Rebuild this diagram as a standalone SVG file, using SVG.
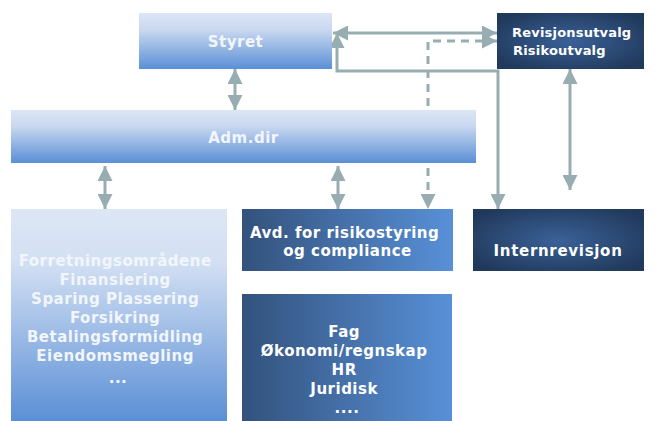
<svg xmlns="http://www.w3.org/2000/svg" width="657" height="421" viewBox="0 0 657 421">
<defs>
<linearGradient id="gV" x1="0" y1="0" x2="0" y2="1">
<stop offset="0" stop-color="#dce6f5"/><stop offset="0.3" stop-color="#c9d8f0"/><stop offset="1" stop-color="#5a8fd6"/>
</linearGradient>
<linearGradient id="gV2" x1="0" y1="0" x2="0" y2="1">
<stop offset="0" stop-color="#dce6f5"/><stop offset="0.25" stop-color="#d3e0f3"/><stop offset="1" stop-color="#5b8fd6"/>
</linearGradient>
<linearGradient id="gH" x1="0" y1="0" x2="1" y2="0">
<stop offset="0" stop-color="#33527c"/><stop offset="1" stop-color="#5890d8"/>
</linearGradient>
<radialGradient id="gR" cx="0.5" cy="0.5" r="0.6">
<stop offset="0" stop-color="#3a6198"/><stop offset="1" stop-color="#213a5c"/>
</radialGradient>
<marker id="ah" viewBox="0 0 16 15" refX="15" refY="7.5" markerWidth="16" markerHeight="15" markerUnits="userSpaceOnUse" orient="auto-start-reverse">
<path d="M0,0 L15,7.5 L0,15 Z" fill="#97adb2"/>
</marker>
</defs>
<style>
.t{font-family:"DejaVu Sans","Verdana",sans-serif;font-weight:bold;fill:#ffffff;text-anchor:middle;letter-spacing:0.5px}
.tl{fill:#f2f6fc}
.c{fill:none;stroke:#97adb2;stroke-width:3}
.d{stroke-dasharray:8,6}
</style>
<g id="connectors">
<line class="c" x1="333" y1="33" x2="497" y2="33" marker-start="url(#ah)" marker-end="url(#ah)"/>
<polyline class="c d" points="497,41 428,41 428,209" marker-start="url(#ah)" marker-end="url(#ah)"/>
<polyline class="c" points="337,33 337,71 498,71 498,209" marker-start="url(#ah)" marker-end="url(#ah)"/>
<line class="c" x1="235" y1="69" x2="235" y2="110" marker-start="url(#ah)" marker-end="url(#ah)"/>
<line class="c" x1="105" y1="166" x2="105" y2="209" marker-start="url(#ah)" marker-end="url(#ah)"/>
<line class="c" x1="338" y1="166" x2="338" y2="209" marker-start="url(#ah)" marker-end="url(#ah)"/>
<line class="c" x1="570" y1="69" x2="570" y2="190" marker-start="url(#ah)" marker-end="url(#ah)"/>
</g>
<g id="styret">
<rect x="139" y="13" width="193" height="56" fill="url(#gV)"/>
<text class="t tl" x="235.5" y="47" font-size="15">Styret</text>
</g>
<g id="revisjonsutvalg">
<rect x="497" y="13" width="147" height="56" fill="url(#gR)"/>
<text class="t" x="512" y="37" font-size="13" style="text-anchor:start;letter-spacing:0.2px">Revisjonsutvalg</text>
<text class="t" x="513" y="55" font-size="13" style="text-anchor:start;letter-spacing:0.2px">Risikoutvalg</text>
</g>
<g id="admdir">
<rect x="11" y="110" width="465" height="53" fill="url(#gV)"/>
<text class="t tl" x="243.5" y="143" font-size="15">Adm.dir</text>
</g>
<g id="forretning">
<rect x="11" y="209" width="216" height="212" fill="url(#gV2)"/>
<text class="t tl" font-size="15">
<tspan x="118" y="266">Forretningsområdene</tspan>
<tspan x="118" y="285">Finansiering</tspan>
<tspan x="118" y="304">Sparing Plassering</tspan>
<tspan x="118" y="323">Forsikring</tspan>
<tspan x="118" y="342">Betalingsformidling</tspan>
<tspan x="118" y="361">Eiendomsmegling</tspan>
<tspan x="118" y="383">...</tspan>
</text>
</g>
<g id="avd">
<rect x="242" y="209" width="211" height="62" fill="url(#gH)"/>
<text class="t" font-size="15">
<tspan x="347.5" y="238">Avd. for risikostyring</tspan>
<tspan x="347.5" y="256">og compliance</tspan>
</text>
</g>
<g id="internrevisjon">
<rect x="473" y="209" width="171" height="62" fill="url(#gR)"/>
<text class="t" x="558" y="256" font-size="15" style="letter-spacing:0.7px">Internrevisjon</text>
</g>
<g id="fag">
<rect x="242" y="294" width="210" height="127" fill="url(#gH)"/>
<text class="t" font-size="15">
<tspan x="347" y="337">Fag</tspan>
<tspan x="347" y="356">Økonomi/regnskap</tspan>
<tspan x="347" y="375">HR</tspan>
<tspan x="347" y="394">Juridisk</tspan>
<tspan x="347" y="413">....</tspan>
</text>
</g>
</svg>
